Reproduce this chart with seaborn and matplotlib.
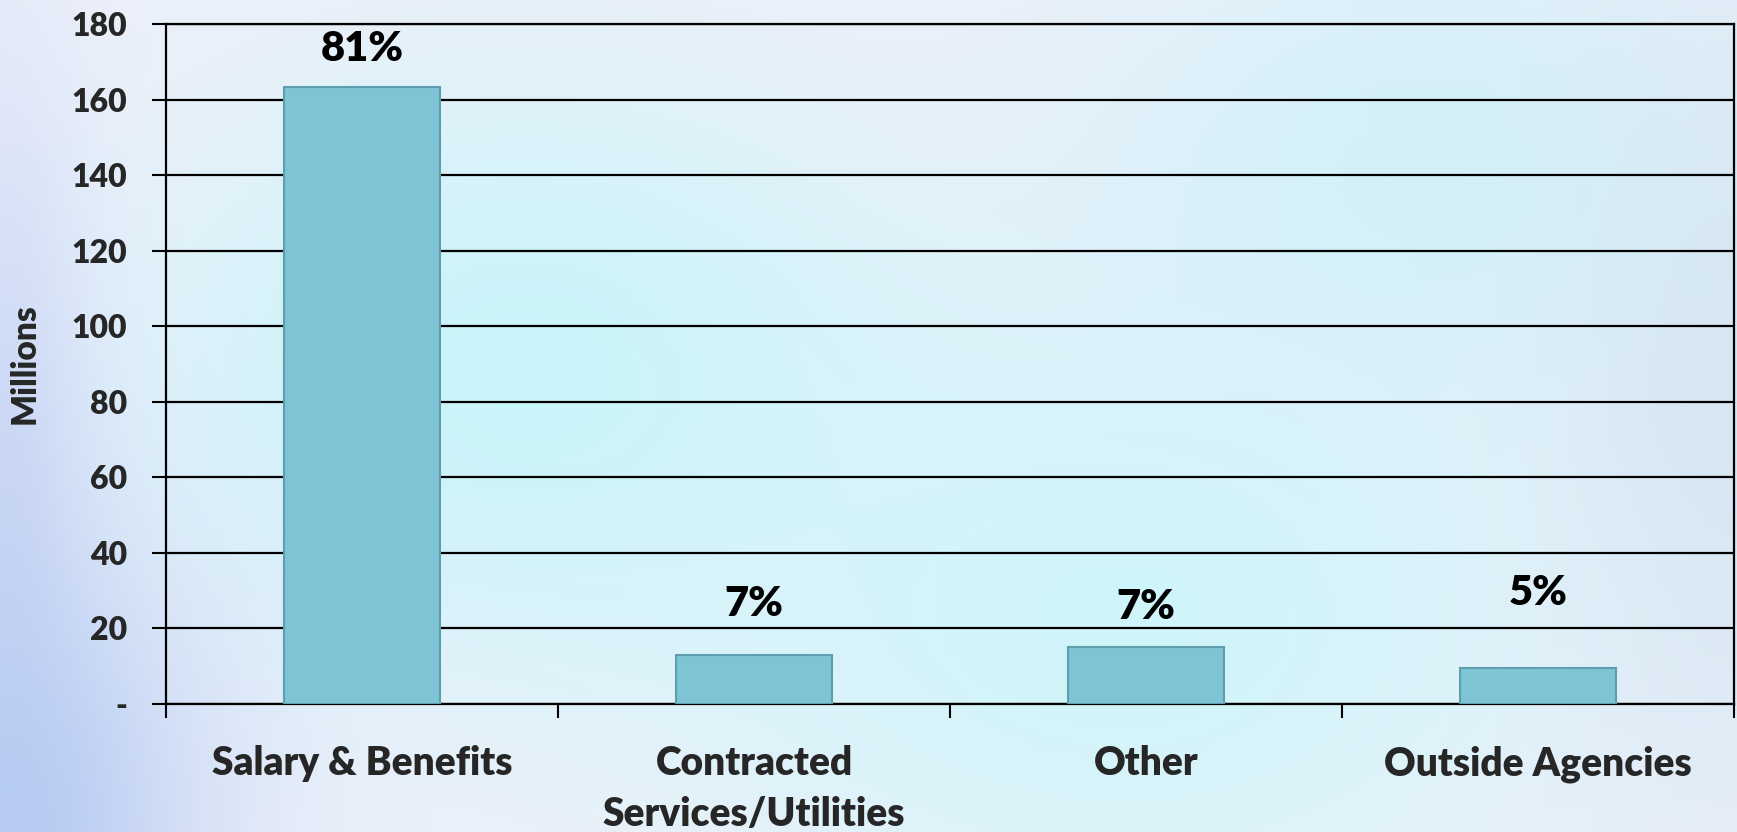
import numpy as np
import pandas as pd
import matplotlib
matplotlib.use("Agg")
import matplotlib.pyplot as plt
import seaborn as sns

# ---- data ----
categories = ["Salary & Benefits", "Contracted\nServices/Utilities", "Other", "Outside Agencies"]
values = [163.3, 12.9, 15.0, 9.4]          # millions
pct_labels = ["81%", "7%", "7%", "5%"]
ytick_values = [0, 20, 40, 60, 80, 100, 120, 140, 160, 180]
ytick_labels = ["-", "20", "40", "60", "80", "100", "120", "140", "160", "180"]

# ---- layout/style ----
label_offsets = [10.3, 13.5, 10.6, 19.9]
bar_color = "#7EC4D4"
edge_color = "#5E9EAE"
W8 = "heavy"

sns.set_theme(style="white")
plt.rcParams["font.family"] = ["Lato", "DejaVu Sans"]
plt.rcParams["font.weight"] = "bold"

fig = plt.figure(figsize=(17.37, 8.32), dpi=100)

# background gradient
bg = fig.add_axes([0, 0, 1, 1], zorder=-10)
H, W = 200, 400
yy, xx = np.mgrid[0:1:H*1j, 0:1:W*1j]   # yy=0 top
base = np.array([238, 240, 250], float)
img = np.ones((H, W, 3)) * base
def blob(cx, cy, sx, sy, col, strength):
    w = np.exp(-(((xx - cx) / sx) ** 2 + ((yy - cy) / sy) ** 2)) * strength
    return w[..., None], np.array(col, float)
for cx, cy, sx, sy, col, s in [
    (0.30, 0.45, 0.22, 0.35, (195, 245, 250), 0.85),
    (0.65, 0.75, 0.25, 0.35, (200, 246, 250), 0.8),
    (0.82, 0.20, 0.20, 0.30, (200, 240, 248), 0.7),
    (0.0, 0.6, 0.05, 0.5, (200, 212, 244), 0.8),
    (0.0, 1.0, 0.12, 0.35, (178, 200, 242), 0.9),
    (1.0, 0.5, 0.10, 0.5, (205, 225, 238), 0.6),
]:
    w, c = blob(cx, cy, sx, sy, col, s)
    img = img * (1 - w) + c * w
bg.imshow(img / 255.0, aspect="auto", extent=[0, 1, 0, 1], origin="upper")
bg.axis("off")

ax = fig.add_axes([0.0956, 0.1544, 0.9027, 0.8163])
ax.patch.set_alpha(0)

df = pd.DataFrame({"category": categories, "value": values})
sns.barplot(data=df, x="category", y="value", order=categories, color=bar_color,
            width=0.4, saturation=1, edgecolor=edge_color, linewidth=1.5, ax=ax, zorder=3)

ax.set_xlim(-0.5, len(categories) - 0.5)
ax.set_ylim(0, 180)
ax.set_yticks(ytick_values)
ax.set_yticklabels(ytick_labels)
ax.yaxis.grid(True, color="black", linewidth=1.6, zorder=0)
ax.set_axisbelow(True)

# x ticks: labels at centers (no tick line), tick marks at boundaries
ax.set_xticks(range(len(categories)))
ax.set_xticklabels(categories, fontsize=28, fontweight=W8, linespacing=1.45)
ax.tick_params(axis="x", which="major", length=0, pad=30)
ax.set_xticks(np.arange(-0.5, len(categories), 1.0), minor=True)
ax.tick_params(axis="x", which="minor", length=10, width=1.5, color="black", direction="out", bottom=True)
ax.tick_params(axis="y", which="major", length=10, width=1.5, color="black", direction="out",
               left=True, labelsize=23, pad=18)
for lbl in ax.get_yticklabels():
    lbl.set_fontweight(W8)

ax.set_xlabel("")
ax.set_ylabel("Millions", fontsize=24, fontweight=W8)
ax.yaxis.set_label_coords(-0.080, 0.5)

for sp in ["left", "bottom", "right", "top"]:
    ax.spines[sp].set_visible(True)
    ax.spines[sp].set_color("black")
    ax.spines[sp].set_linewidth(1.6)

for i, (v, t, off) in enumerate(zip(values, pct_labels, label_offsets)):
    ax.text(i, v + off, t, ha="center", va="center", fontsize=30, fontweight=W8,
            color="black", zorder=5)

fig.savefig("out.png", dpi=100)
